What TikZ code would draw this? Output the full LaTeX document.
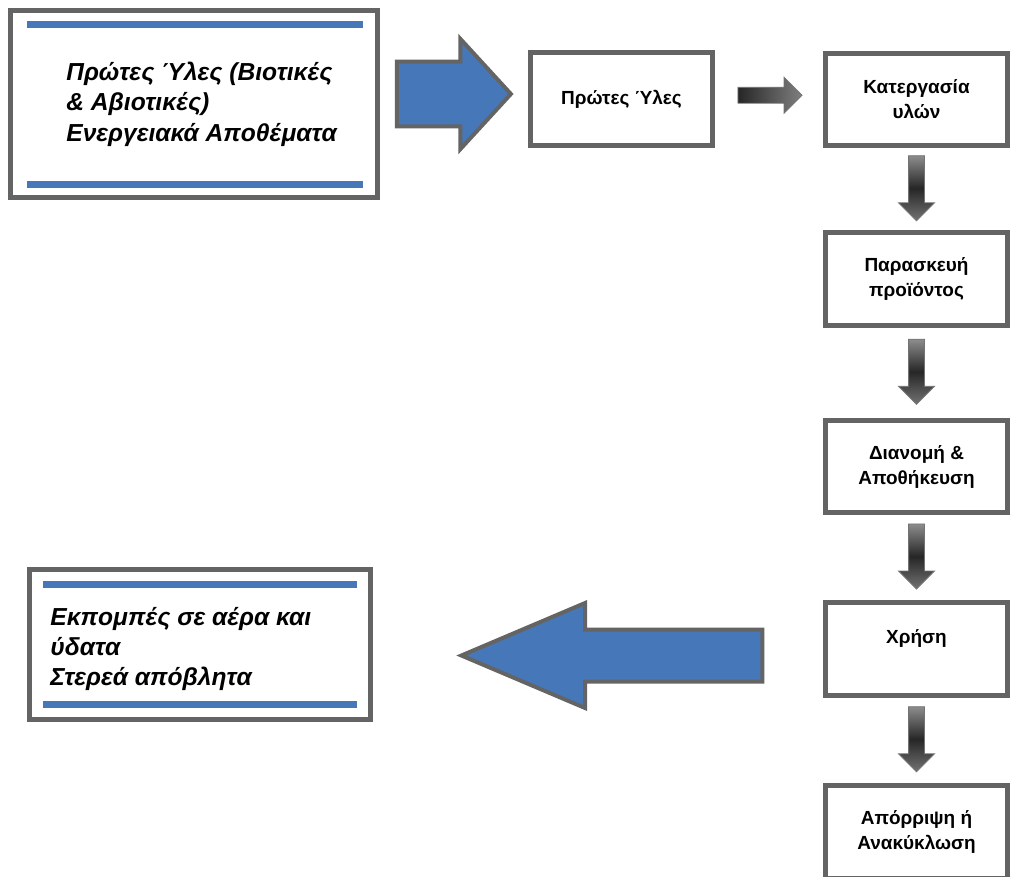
\documentclass[tikz,border=0pt]{standalone}
\usepackage{fontspec}
\setmainfont{Liberation Sans}
\usetikzlibrary{calc,shapes.arrows}
\definecolor{barblue}{RGB}{70,120,185}
\definecolor{framegray}{RGB}{100,100,100}

\begin{document}
\begin{tikzpicture}[x=0.02cm,y=-0.02cm,
    box/.style={draw=framegray,line width=0.1cm,minimum width=3.64cm,minimum height=1.86cm,
      inner sep=0pt,align=center,font=\fontsize{10.8}{14.2}\selectfont\bfseries},
    bigbox/.style={draw=framegray,line width=0.1cm,inner sep=0pt},
    bigtext/.style={anchor=west,align=left,inner sep=0pt,font=\fontsize{14}{17.4}\selectfont\bfseries\itshape},
    bar/.style={barblue,line width=0.14cm},
    bluearrow/.style={single arrow,draw=framegray,fill=barblue,line width=0.08cm,inner xsep=0pt},
    darkarrow/.style={single arrow,draw=black!55,line width=0.5pt,
      minimum width=0.7cm,single arrow head extend=0.2cm,single arrow tip angle=90}]
  \useasboundingbox (0,0) rectangle (1014,876);
  % inputs
  \node[bigbox,minimum width=7.34cm,minimum height=3.74cm] (src) at (194,104) {};
  \draw[bar] ($(src.north west)+(19,16.5)$) -- ($(src.north east)+(-17,16.5)$);
  \draw[bar] ($(src.south west)+(19,-15.5)$) -- ($(src.south east)+(-17,-15.5)$);
  \node[bigtext] (srctext) at (66,104) {Πρώτες Ύλες (Βιοτικές\\\& Αβιοτικές)\\Ενεργειακά Αποθέματα};
  % life cycle
  \node[box] (raw) at (621.5,99) {Πρώτες Ύλες};
  \node[box] (kat) at (916.5,99.5) {Κατεργασία\\υλών};
  \node[box] (par) at (916.5,279) {Παρασκευή\\προϊόντος};
  \node[box] (dia) at (916.5,466.5) {Διανομή \&\\Αποθήκευση};
  \node[box] (xri) at (916.5,648.5) {Χρήση\\\mbox{}};
  \node[box] (apo) at (916.5,832) {Απόρριψη ή\\Ανακύκλωση};
  \node[bluearrow,minimum height=2.28cm,minimum width=2.12cm,inner ysep=0.61cm,
    single arrow head extend=0.45cm,single arrow tip angle=95]
    (arr1) at ($(src.east)!0.5!(raw.west)+(-15,-7.5)$) {};
  \node[darkarrow,minimum height=1.28cm,inner xsep=0pt,inner ysep=0.15cm,
    left color=black!85,middle color=black!80,right color=black!50]
    (arr2) at ($(raw.east)!0.5!(kat.west)+(-3,-4)$) {};
  \foreach \a/\b in {kat/par,par/dia,dia/xri,xri/apo}
    \node[darkarrow,minimum height=1.3cm,inner xsep=0.15cm,inner ysep=0pt,shape border rotate=270,
      top color=black!45,bottom color=black!55,middle color=black!85]
      (arr-\a) at ($(\a.south)!0.5!(\b.north)+(0,-5)$) {};
  % outputs
  \node[bigbox,minimum width=6.82cm,minimum height=3.0cm] (emi) at (200,644.5) {};
  \draw[bar] ($(emi.north west)+(16,17)$) -- ($(emi.north east)+(-16,17)$);
  \draw[bar] ($(emi.south west)+(16,-17)$) -- ($(emi.south east)+(-16,-17)$);
  \node[bigtext,font=\fontsize{14}{17}\selectfont\bfseries\itshape] (emitext) at (50,649)
    {Εκπομπές σε αέρα και\\ύδατα\\Στερεά απόβλητα};
  \node[bluearrow,minimum height=6.02cm,minimum width=2.02cm,inner ysep=0.48cm,
    single arrow head extend=0.53cm,single arrow tip angle=46,shape border rotate=180]
    (arr3) at ($(emi.east)!0.5!(xri.west)+(44.5,9)$) {};
\end{tikzpicture}
\end{document}
